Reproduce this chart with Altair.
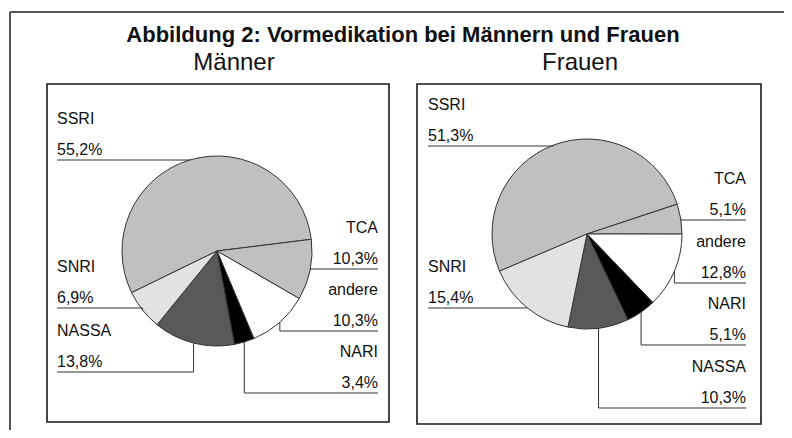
import math
import altair as alt
import pandas as pd

# ---------------- data ----------------
categories = ["SSRI", "TCA", "andere", "NARI", "NASSA", "SNRI"]
maenner_pct = [55.2, 10.3, 10.3, 3.4, 13.8, 6.9]
frauen_pct = [51.3, 5.1, 12.8, 5.1, 10.3, 15.4]
panel_names = ["Männer", "Frauen"]
title_text = "Abbildung 2: Vormedikation bei Männern und Frauen"

# ---------------- style / layout ----------------
slice_colors = ["#c0c0c0", "#c0c0c0", "#ffffff", "#000000", "#595959", "#e2e2e2"]
W, H = 776, 422          # canvas (page pixels 8..784, 8..430)
R = 95                   # pie radius in px
FONT = "Liberation Sans"
LABEL_SIZE = 16

panel_layout = {
    "Männer": dict(cx=217, cy=251, rot=244.0, lx=57, rx=378,
                   bx=47, bx2=389, by=84, by2=422, tx=234, ty=70),
    "Frauen": dict(cx=587, cy=234, rot=247.0, lx=428, rx=746,
                   bx=417, bx2=761, by=84, by2=424, tx=580, ty=70),
}
# side of label and y of the underline for each slice
label_layout = {
    "Männer": {"SSRI": ("L", 160), "TCA": ("R", 269), "andere": ("R", 331),
               "NARI": ("R", 393), "NASSA": ("L", 372), "SNRI": ("L", 308)},
    "Frauen": {"SSRI": ("L", 146), "TCA": ("R", 220), "andere": ("R", 283),
               "NARI": ("R", 345), "NASSA": ("R", 408), "SNRI": ("L", 308)},
}
title_pos = dict(x=403, y=42)
outer_lines = [dict(x=10, x2=784, y=12, y2=12), dict(x=10, x2=10, y=12, y2=430)]

# ---------------- tables ----------------
rows = []
for pname, vals in zip(panel_names, [maenner_pct, frauen_pct]):
    pl = panel_layout[pname]
    for i, (cat, v) in enumerate(zip(categories, vals)):
        side, uy = label_layout[pname][cat]
        rows.append(dict(
            panel=pname, cat=cat, value=v, order=i,
            vlabel=f"{v:.1f}".replace(".", ",") + "%",
            cx=pl["cx"], cy=pl["cy"], rot=pl["rot"],
            side=side, uy=uy, tx=pl["lx"] if side == "L" else pl["rx"],
        ))
df = pd.DataFrame(rows)

panels_df = pd.DataFrame([dict(panel=p, **panel_layout[p]) for p in panel_names])
outer_df = pd.DataFrame(outer_lines)
title_df = pd.DataFrame([dict(text=title_text, **title_pos)])

xs = alt.Scale(domain=[8, 8 + W], nice=False, zero=False)
ys = alt.Scale(domain=[8, 8 + H], nice=False, zero=False, reverse=True)

base = (
    alt.Chart(df)
    .transform_joinaggregate(total="sum(value)", groupby=["panel"])
    .transform_window(cum="sum(value)", groupby=["panel"],
                      sort=[alt.SortField("order", order="ascending")],
                      frame=[None, 0])
    .transform_calculate(t0="datum.rot + (datum.cum - datum.value) / datum.total * 360")
    .transform_calculate(t1="datum.rot + datum.cum / datum.total * 360")
    .transform_calculate(mid="(datum.t0 + datum.t1) / 2 * PI / 180")
    .transform_calculate(ax=f"datum.cx + {R} * sin(datum.mid)")
    .transform_calculate(ay=f"datum.cy - {R} * cos(datum.mid)")
)

outer = alt.Chart(outer_df).mark_rule(color="#555555", strokeWidth=2).encode(
    x=alt.X("x:Q", scale=xs, axis=None), x2="x2:Q",
    y=alt.Y("y:Q", scale=ys, axis=None), y2="y2:Q",
)

boxes = alt.Chart(panels_df).mark_rect(fillOpacity=0, stroke="#1a1a1a", strokeWidth=1.6).encode(
    x=alt.X("bx:Q", scale=xs, axis=None), x2="bx2:Q",
    y=alt.Y("by:Q", scale=ys, axis=None), y2="by2:Q",
)

arcs = base.mark_arc(radius=R, stroke="#333333", strokeWidth=1).encode(
    x=alt.X("cx:Q", scale=xs, axis=None),
    y=alt.Y("cy:Q", scale=ys, axis=None),
    theta=alt.Theta("t0:Q", scale=alt.Scale(domain=[0, 360], range=[0, 2 * math.pi],
                                             nice=False, zero=False), stack=False),
    theta2="t1:Q",
    color=alt.Color("cat:N", scale=alt.Scale(domain=categories, range=slice_colors), legend=None),
)

hlead = base.mark_rule(color="#333333", strokeWidth=1).encode(
    x=alt.X("tx:Q", scale=xs, axis=None), x2="ax:Q",
    y=alt.Y("uy:Q", scale=ys, axis=None),
)
vlead = base.mark_rule(color="#333333", strokeWidth=1).encode(
    x=alt.X("ax:Q", scale=xs, axis=None),
    y=alt.Y("uy:Q", scale=ys, axis=None), y2="ay:Q",
)

def label_layer(side, align, field, dy):
    return base.transform_filter(f"datum.side === '{side}'").mark_text(
        align=align, baseline="alphabetic", dy=dy, fontSize=LABEL_SIZE, font=FONT, color="#111111"
    ).encode(
        x=alt.X("tx:Q", scale=xs, axis=None),
        y=alt.Y("uy:Q", scale=ys, axis=None),
        text=f"{field}:N",
    )

labels = [
    label_layer("L", "left", "cat", -36),
    label_layer("L", "left", "vlabel", -5),
    label_layer("R", "right", "cat", -36),
    label_layer("R", "right", "vlabel", -5),
]

panel_titles = alt.Chart(panels_df).mark_text(
    align="center", baseline="alphabetic", fontSize=24, font=FONT, color="#111111"
).encode(
    x=alt.X("tx:Q", scale=xs, axis=None),
    y=alt.Y("ty:Q", scale=ys, axis=None),
    text="panel:N",
)

main_title = alt.Chart(title_df).mark_text(
    align="center", baseline="alphabetic", fontSize=22, fontWeight="bold", font=FONT, color="#111111"
).encode(
    x=alt.X("x:Q", scale=xs, axis=None),
    y=alt.Y("y:Q", scale=ys, axis=None),
    text="text:N",
)

chart = alt.layer(
    outer, boxes, arcs, hlead, vlead, *labels, panel_titles, main_title
).properties(
    width=W, height=H, autosize=alt.AutoSizeParams(type="none"), padding=0,
).configure_view(strokeWidth=0)

chart.save("out.html", embed_options={"renderer": "svg", "actions": False})
